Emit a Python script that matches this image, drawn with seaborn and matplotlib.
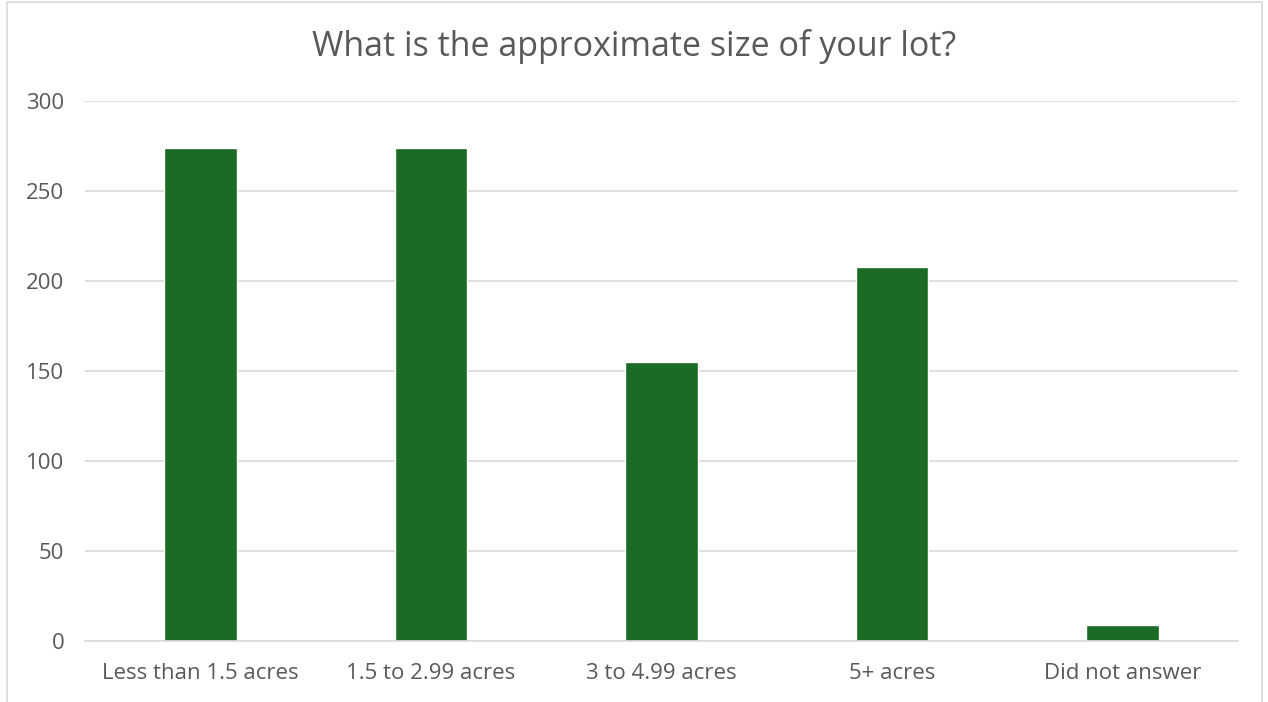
import pandas as pd
import numpy as np
import seaborn as sns
import matplotlib.pyplot as plt
from matplotlib.patches import Rectangle

categories = ["Less than 1.5 acres", "1.5 to 2.99 acres", "3 to 4.99 acres", "5+ acres", "Did not answer"]
counts = [274, 274, 155, 208, 9]
yticks = [0, 50, 100, 150, 200, 250, 300]

df = pd.DataFrame({"lot": categories, "count": counts})

sns.set_style("white")
plt.rcParams['font.family'] = ['Open Sans', 'DejaVu Sans']

fig = plt.figure(figsize=(12.68, 7.02), dpi=100)
ax = fig.add_axes([85/1268, 1 - 641/702, (1238 - 85)/1268, 540/702])

sns.barplot(data=df, x="lot", y="count", color="#1b6b24", saturation=1, width=0.315, ax=ax)

ax.set_ylim(0, 300)
ax.set_yticks(yticks)
ax.set_xlim(-0.5, len(categories) - 0.5)
ax.yaxis.grid(True, color="#d9d9d9", linewidth=1.2)
ax.set_axisbelow(True)
for s in ["top", "right", "left"]:
    ax.spines[s].set_visible(False)
ax.spines["bottom"].set_color("#d9d9d9")
ax.spines["bottom"].set_linewidth(1.2)
ax.tick_params(axis="both", length=0, labelsize=16, labelcolor="#595959")
ax.tick_params(axis="y", pad=15)
ax.tick_params(axis="x", pad=16)
ax.set_xlabel("")
ax.set_ylabel("")

fig.text(0.5, 1 - 46/702, "What is the approximate size of your lot?", ha="center", va="center",
         fontsize=24.5, color="#595959")

# chart area border
fig.patches.append(Rectangle((7/1268, -0.01), (1262 - 7)/1268, 1 - 2/702 + 0.01, transform=fig.transFigure,
                             fill=False, edgecolor="#d9d9d9", linewidth=1.2))

fig.savefig("out.png", dpi=100)
